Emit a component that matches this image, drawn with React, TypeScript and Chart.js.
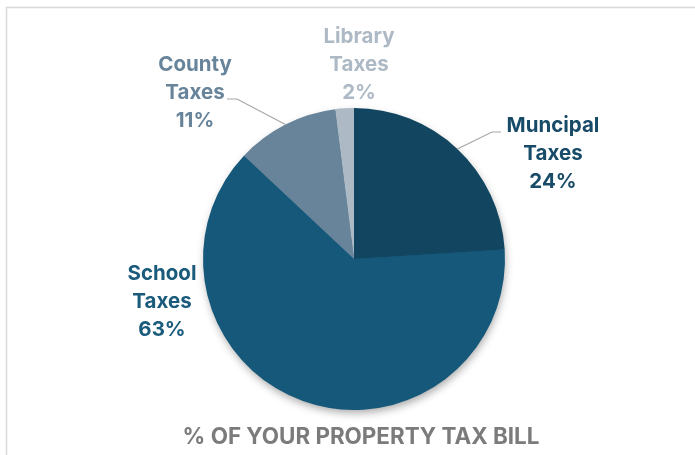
import React, { useEffect, useRef } from "react";
import { Chart, registerables } from "chart.js";

Chart.register(...registerables);

const categories = ["Muncipal Taxes", "School Taxes", "County Taxes", "Library Taxes"];
const labelLines = [["Muncipal", "Taxes"], ["School", "Taxes"], ["County", "Taxes"], ["Library", "Taxes"]];
const values = [24, 63, 11, 2];
const sliceColors = ["#124660", "#15587a", "#67849b", "#adb9c5"];
const textColors = ["#184b68", "#1a5b7c", "#67849b", "#adb9c5"];
const chartTitle = "% OF YOUR PROPERTY TAX BILL";

// label block centre offsets from pie centre (layout)
const labelOffsets = [
  [199, -105],
  [-192, 43],
  [-159, -166],
  [5, -194],
];
// leader elbows: [elbowDx, elbowDy, endDx] relative to centre, or null
const leaders: (number[] | null)[] = [
  [138, -127, 147],
  null,
  [-117, -160, -127],
  null,
];

const FONT = "700 20.5px Inter, 'Noto Sans', sans-serif";
const TITLE_FONT = "700 22.4px Inter, 'Noto Sans', sans-serif";

const customPlugin = {
  id: "custom",
  beforeDraw(chart: any) {
    const ctx = chart.ctx;
    ctx.save();
    ctx.fillStyle = "#ffffff";
    ctx.fillRect(0, 0, chart.width, chart.height);
    ctx.strokeStyle = "#d9d9d9";
    ctx.lineWidth = 1.5;
    ctx.strokeRect(6.5, 7.5, chart.width + 20, chart.height + 20);
    ctx.restore();
  },
  beforeDatasetsDraw(chart: any) {
    const arc = chart.getDatasetMeta(0).data[0];
    if (!arc) return;
    const ctx = chart.ctx;
    ctx.save();
    ctx.shadowColor = "rgba(0,0,0,0.35)";
    ctx.shadowBlur = 9;
    ctx.shadowOffsetX = 1;
    ctx.shadowOffsetY = 4;
    ctx.beginPath();
    ctx.arc(arc.x, arc.y, arc.outerRadius - 1, 0, Math.PI * 2);
    ctx.fillStyle = "#15587a";
    ctx.fill();
    ctx.restore();
  },
  afterDatasetsDraw(chart: any) {
    const meta = chart.getDatasetMeta(0);
    const ctx = chart.ctx;
    ctx.save();
    meta.data.forEach((arc: any, i: number) => {
      const cx = arc.x;
      const cy = arc.y;
      const mid = (arc.startAngle + arc.endAngle) / 2;
      const ld = leaders[i];
      if (ld) {
        const r = arc.outerRadius;
        ctx.beginPath();
        ctx.moveTo(cx + Math.cos(mid) * r, cy + Math.sin(mid) * r);
        ctx.lineTo(cx + ld[0], cy + ld[1]);
        ctx.lineTo(cx + ld[2], cy + ld[1]);
        ctx.strokeStyle = "#a6a6a6";
        ctx.lineWidth = 1.2;
        ctx.stroke();
      }
      const [dx, dy] = labelOffsets[i];
      const lines = [...labelLines[i], values[i] + "%"];
      ctx.font = FONT;
      ctx.fillStyle = textColors[i];
      ctx.textAlign = "center";
      ctx.textBaseline = "middle";
      const lh = 28;
      lines.forEach((t, k) => {
        ctx.fillText(t, cx + dx, cy + dy + (k - 1) * lh);
      });
    });
    ctx.font = TITLE_FONT;
    ctx.fillStyle = "#7b7b7b";
    ctx.textAlign = "center";
    ctx.textBaseline = "middle";
    ctx.fillText(chartTitle, 361, 437);
    ctx.restore();
  },
};

export default function App() {
  const ref = useRef<HTMLCanvasElement>(null);
  useEffect(() => {
    if (!ref.current) return;
    const chart = new Chart(ref.current, {
      type: "pie",
      data: {
        labels: categories,
        datasets: [
          {
            data: values,
            backgroundColor: sliceColors,
            borderWidth: 0,
          },
        ],
      },
      options: {
        responsive: false,
        animation: false,
        devicePixelRatio: 1,
        layout: { padding: { left: 203, right: 190, top: 108, bottom: 45 } },
        plugins: {
          legend: { display: false },
          tooltip: { enabled: false },
          title: { display: false },
        },
      },
      plugins: [customPlugin],
    });
    return () => chart.destroy();
  }, []);
  return (
    <div style={{ position: "fixed", left: 0, top: 0, width: 695, height: 455, background: "#fff" }}>
      <canvas ref={ref} width={695} height={455} style={{ width: 695, height: 455 }} />
    </div>
  );
}
